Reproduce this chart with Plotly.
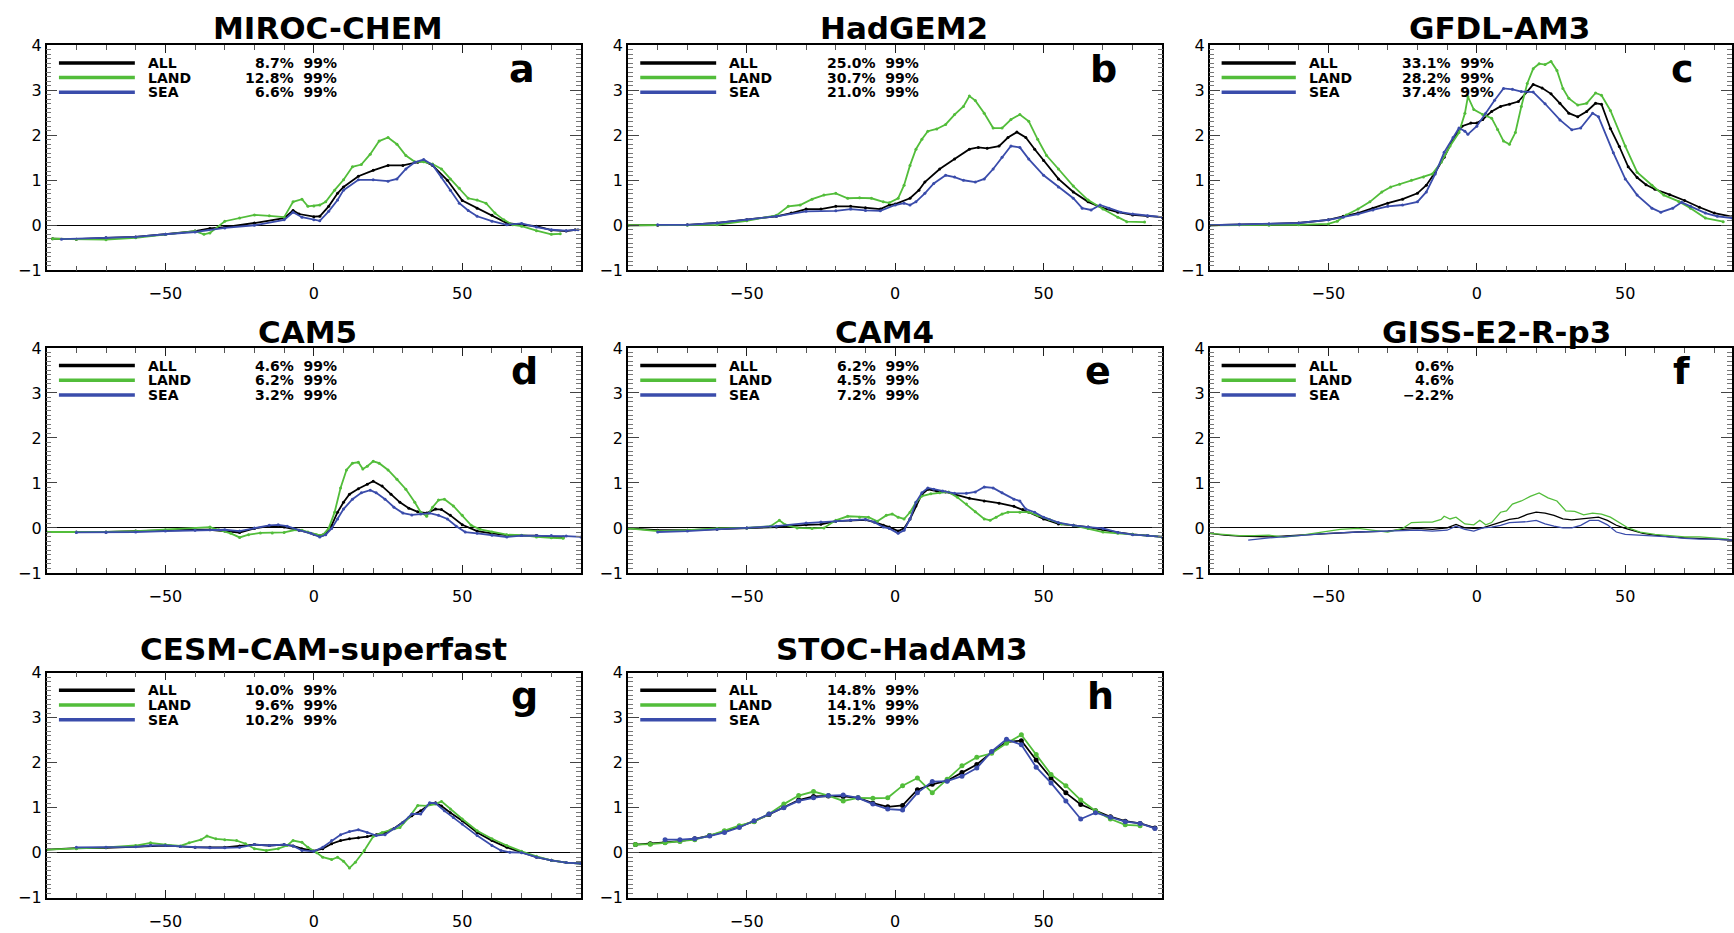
import plotly.graph_objects as go

# ---------------- data ----------------
model_names = ["MIROC-CHEM", "HadGEM2", "GFDL-AM3", "CAM5", "CAM4",
               "GISS-E2-R-p3", "CESM-CAM-superfast", "STOC-HadAM3"]
panel_letters = ["a", "b", "c", "d", "e", "f", "g", "h"]
series_names = ["ALL", "LAND", "SEA"]

pct_all = ["8.7%", "25.0%", "33.1%", "4.6%", "6.2%", "0.6%", "10.0%", "14.8%"]
pct_land = ["12.8%", "30.7%", "28.2%", "6.2%", "4.5%", "4.6%", "9.6%", "14.1%"]
pct_sea = ["6.6%", "21.0%", "37.4%", "3.2%", "7.2%", "−2.2%", "10.2%", "15.2%"]
signif = ["99%", "99%", "99%", "99%", "99%", "", "99%", "99%"]

# panel a : MIROC-CHEM
a_all_lat = [-88,-80,-70,-60,-50,-40,-35,-30,-20,-10,-7,-5,0,2,5,8,10,15,20,25,30,35,37,40,45,50,55,60,65,70,75,80,85,88]
a_all = [-0.30,-0.31,-0.28,-0.26,-0.20,-0.13,-0.07,-0.04,0.05,0.16,0.33,0.25,0.19,0.20,0.42,0.71,0.85,1.09,1.22,1.33,1.33,1.40,1.43,1.33,1.00,0.55,0.38,0.22,0.05,0.01,-0.02,-0.11,-0.13,-0.10]
a_land_lat = [-88,-80,-70,-60,-50,-40,-37,-35,-30,-25,-20,-15,-10,-7,-4,-2,0,2,4,7,10,13,16,19,22,25,28,31,34,37,40,43,46,49,52,55,58,61,64,67,70,75,80,83]
a_land = [-0.30,-0.31,-0.32,-0.28,-0.20,-0.13,-0.20,-0.17,0.09,0.16,0.23,0.21,0.18,0.52,0.58,0.42,0.43,0.45,0.52,0.78,1.01,1.30,1.35,1.58,1.87,1.95,1.80,1.55,1.41,1.41,1.36,1.25,1.03,0.82,0.60,0.56,0.49,0.27,0.12,0.01,-0.02,-0.12,-0.20,-0.19]
a_sea_lat = [-85,-70,-60,-50,-40,-30,-20,-10,-7,-4,0,2,5,8,10,15,20,25,28,31,34,37,40,43,46,49,52,55,60,65,70,75,80,85,89]
a_sea = [-0.31,-0.28,-0.26,-0.20,-0.15,-0.06,0.0,0.12,0.29,0.18,0.12,0.10,0.31,0.56,0.78,1.01,1.01,0.98,1.03,1.25,1.40,1.46,1.34,1.07,0.78,0.49,0.33,0.20,0.09,0.01,0.04,-0.04,-0.10,-0.12,-0.10]

# panel b : HadGEM2
b_all_lat = [-90,-80,-70,-60,-50,-40,-35,-30,-25,-20,-15,-10,-5,-2,0,5,8,10,15,20,25,28,31,35,38,41,44,47,50,55,60,65,70,75,80,85,90]
b_all = [0.0,0.0,0.01,0.05,0.12,0.20,0.27,0.36,0.36,0.42,0.42,0.39,0.36,0.45,0.47,0.60,0.78,0.96,1.25,1.47,1.69,1.73,1.71,1.76,1.95,2.07,1.95,1.69,1.44,1.03,0.74,0.52,0.38,0.29,0.23,0.20,0.18]
b_land_lat = [-90,-70,-60,-50,-40,-36,-32,-28,-24,-20,-16,-12,-8,-4,-2,1,3,5,7,9,11,14,17,20,23,25,27,30,33,36,39,42,45,48,51,55,60,65,70,75,78,84]
b_land = [0.0,0.0,0.01,0.10,0.22,0.42,0.45,0.58,0.67,0.71,0.60,0.61,0.60,0.52,0.50,0.60,0.89,1.33,1.69,1.91,2.09,2.14,2.24,2.46,2.64,2.87,2.77,2.49,2.16,2.16,2.35,2.46,2.31,1.91,1.55,1.25,0.87,0.56,0.36,0.18,0.08,0.07]
b_sea_lat = [-80,-70,-60,-50,-40,-30,-20,-15,-10,-5,0,3,5,7,10,13,17,20,23,27,30,33,36,39,42,45,50,55,60,63,66,69,72,76,80,85,90]
b_sea = [0.01,0.01,0.05,0.12,0.20,0.31,0.32,0.36,0.33,0.32,0.45,0.49,0.45,0.52,0.71,0.93,1.11,1.07,1.00,0.96,1.03,1.25,1.51,1.76,1.73,1.47,1.11,0.85,0.60,0.38,0.34,0.45,0.38,0.29,0.25,0.21,0.18]

# panel c : GFDL-AM3
c_all_lat = [-90,-80,-70,-60,-50,-45,-40,-35,-30,-25,-20,-17,-14,-11,-8,-5,-2,0,2,5,8,11,14,17,19,22,25,28,31,34,37,40,42,45,48,51,54,57,60,65,70,75,80,86]
c_all = [0.0,0.01,0.03,0.05,0.12,0.20,0.27,0.38,0.49,0.58,0.71,0.89,1.18,1.51,1.91,2.20,2.27,2.27,2.35,2.53,2.64,2.69,2.75,2.97,3.13,3.05,2.92,2.71,2.49,2.41,2.53,2.71,2.69,2.15,1.75,1.30,1.06,0.90,0.80,0.68,0.55,0.40,0.27,0.19]
c_land_lat = [-90,-70,-60,-50,-47,-44,-40,-36,-32,-29,-26,-22,-18,-15,-12,-9,-6,-4,-3,-1,2,5,7,9,11,13,15,17,19,21,23,25,27,29,31,34,37,40,42,45,50,54,59,63,68,72,77,83]
c_land = [0.0,0.0,0.01,0.03,0.09,0.23,0.36,0.52,0.74,0.85,0.91,1.00,1.07,1.14,1.40,1.76,2.06,2.49,2.86,2.57,2.46,2.38,2.13,1.87,1.80,2.06,2.64,3.15,3.48,3.59,3.57,3.64,3.44,3.04,2.82,2.67,2.71,2.94,2.89,2.55,1.76,1.18,0.89,0.67,0.53,0.38,0.16,0.08]
c_sea_lat = [-90,-80,-70,-60,-50,-45,-40,-35,-30,-25,-20,-17,-14,-11,-8,-6,-4,-3,0,3,6,9,12,15,19,23,28,32,35,39,41,46,50,54,59,62,66,69,72,77,81,86]
c_sea = [0.0,0.02,0.03,0.05,0.12,0.18,0.25,0.34,0.42,0.45,0.52,0.74,1.14,1.62,1.95,2.16,2.09,2.02,2.20,2.49,2.78,3.04,3.02,2.97,2.96,2.70,2.34,2.12,2.16,2.49,2.41,1.61,1.03,0.67,0.38,0.29,0.38,0.51,0.42,0.27,0.20,0.16]

# panel d : CAM5
d_all_lat = [-90,-80,-70,-60,-50,-40,-35,-30,-25,-20,-15,-12,-10,-5,0,2,4,6,8,10,12,15,18,20,23,26,29,32,35,38,41,43,46,50,55,60,65,70,75,80,84]
d_all = [-0.09,-0.09,-0.09,-0.07,-0.05,-0.04,-0.04,-0.07,-0.10,-0.01,0.04,0.04,0.02,-0.05,-0.14,-0.17,-0.12,0.06,0.35,0.57,0.75,0.87,0.97,1.04,0.93,0.75,0.57,0.44,0.36,0.33,0.42,0.41,0.28,0.07,-0.07,-0.12,-0.16,-0.17,-0.17,-0.20,-0.20]
d_land_lat = [-90,-70,-60,-50,-40,-35,-32,-28,-25,-22,-18,-14,-10,-6,-4,-2,1,3,5,7,9,11,13,15,16.5,18,20,22,25,28,31,34,36,38,40,42,44,47,50,53,56,60,65,70,75,80,84]
d_land = [-0.09,-0.09,-0.07,-0.04,-0.01,0.02,-0.04,-0.12,-0.21,-0.15,-0.11,-0.11,-0.10,-0.04,-0.05,-0.09,-0.15,-0.16,-0.01,0.35,0.89,1.29,1.44,1.46,1.31,1.37,1.48,1.44,1.29,1.08,0.86,0.57,0.35,0.26,0.46,0.62,0.64,0.49,0.28,0.06,-0.03,-0.09,-0.15,-0.16,-0.20,-0.22,-0.23]
d_sea_lat = [-80,-70,-60,-50,-40,-30,-25,-20,-15,-12,-9,-5,-1,2,4,6,8,10,13,16,19,21,24,27,30,33,36,39,42,45,48,51,55,60,65,70,75,80,85,90]
d_sea = [-0.10,-0.10,-0.09,-0.07,-0.05,-0.04,-0.07,0.0,0.06,0.07,0.04,-0.05,-0.12,-0.20,-0.15,-0.01,0.20,0.42,0.64,0.78,0.84,0.78,0.64,0.46,0.33,0.29,0.31,0.33,0.28,0.20,0.04,-0.09,-0.12,-0.16,-0.20,-0.17,-0.17,-0.17,-0.18,-0.20]

# panel e : CAM4
e_all_lat = [-90,-80,-70,-60,-50,-40,-30,-25,-20,-15,-10,-7,-4,-2,1,3,5,7,9,11,14,17,20,25,30,35,40,43,45,50,55,60,65,70,75,80,85,90]
e_all = [-0.01,-0.05,-0.05,-0.03,0.0,0.02,0.07,0.08,0.15,0.17,0.18,0.13,0.06,0.02,-0.07,-0.01,0.20,0.49,0.75,0.86,0.82,0.80,0.75,0.66,0.60,0.55,0.48,0.41,0.35,0.20,0.09,0.06,0.02,-0.04,-0.10,-0.14,-0.17,-0.20]
e_land_lat = [-90,-80,-70,-60,-50,-42,-39,-37,-33,-28,-24,-20,-16,-12,-9,-6,-3,-1,1,3,5,7,9,12,15,18,21,24,27,30,32,34,36,38,42,45,48,52,56,60,65,70,75,80,85,90]
e_land = [-0.01,-0.07,-0.05,-0.01,0.0,0.04,0.17,0.07,0.0,-0.01,0.0,0.17,0.26,0.24,0.24,0.15,0.28,0.31,0.24,0.20,0.35,0.57,0.71,0.76,0.78,0.80,0.68,0.53,0.36,0.20,0.17,0.24,0.31,0.35,0.35,0.35,0.28,0.19,0.09,0.06,-0.01,-0.09,-0.12,-0.14,-0.17,-0.20]
e_sea_lat = [-80,-70,-60,-50,-40,-30,-25,-20,-15,-10,-7,-4,-2,1,3,5,7,9,11,13,16,20,24,27,30,33,36,40,42,44,47,50,55,60,65,70,75,80,85,90]
e_sea = [-0.09,-0.07,-0.03,0.0,0.04,0.11,0.13,0.15,0.17,0.19,0.13,0.02,-0.01,-0.12,-0.05,0.20,0.57,0.78,0.89,0.86,0.82,0.77,0.77,0.80,0.91,0.89,0.78,0.64,0.60,0.42,0.35,0.24,0.12,0.06,0.02,-0.01,-0.10,-0.15,-0.17,-0.20]

# panel f : GISS-E2-R-p3
f_all_lat = [-90,-85,-80,-70,-60,-50,-40,-30,-25,-20,-15,-10,-7,-4,-1,2,5,8,11,14,17,20,23,26,29,32,35,38,41,44,47,50,53,56,60,65,70,75,80,86]
f_all = [-0.12,-0.16,-0.18,-0.20,-0.16,-0.12,-0.09,-0.07,-0.03,-0.01,-0.03,0.0,0.08,0.0,-0.01,0.0,0.06,0.13,0.19,0.22,0.30,0.35,0.33,0.28,0.20,0.18,0.20,0.22,0.24,0.17,0.06,-0.01,-0.07,-0.12,-0.16,-0.20,-0.22,-0.23,-0.25,-0.27]
f_land_lat = [-90,-85,-80,-75,-70,-65,-60,-55,-50,-46,-40,-35,-30,-25,-22,-18,-15,-12,-11,-9,-7,-4,-1,1,3,5,8,10,12,15,18,21,24,27,30,33,36,39,42,45,48,51,55,60,65,70,75,80,85]
f_land = [-0.12,-0.14,-0.17,-0.17,-0.16,-0.20,-0.17,-0.12,-0.07,-0.03,-0.01,-0.05,-0.09,-0.01,0.12,0.13,0.13,0.19,0.26,0.20,0.24,0.09,0.07,0.17,0.07,0.12,0.35,0.38,0.53,0.60,0.70,0.78,0.67,0.60,0.38,0.37,0.29,0.33,0.31,0.24,0.12,0.0,-0.09,-0.14,-0.17,-0.20,-0.20,-0.22,-0.25]
f_sea_lat = [-77,-70,-60,-50,-40,-30,-20,-15,-10,-7,-4,-1,2,5,8,11,14,17,20,23,26,29,32,35,38,41,44,47,50,55,60,65,70,75,80,86]
f_sea = [-0.27,-0.22,-0.17,-0.12,-0.09,-0.07,-0.05,-0.07,-0.05,0.04,-0.03,-0.07,0.0,0.02,0.06,0.12,0.13,0.14,0.17,0.09,0.04,0.0,0.0,0.06,0.17,0.17,0.07,-0.09,-0.14,-0.16,-0.17,-0.20,-0.23,-0.25,-0.25,-0.27]

# panel g : CESM-CAM-superfast
g_all_lat = [-90,-80,-70,-60,-55,-50,-45,-40,-35,-30,-25,-20,-15,-10,-7,-4,0,3,6,9,12,15,18,21,24,27,30,33,36,39,41,43,46,50,55,60,65,70,75,80,85,90]
g_all = [0.07,0.10,0.11,0.14,0.16,0.16,0.14,0.12,0.12,0.12,0.15,0.18,0.16,0.18,0.15,0.09,0.04,0.09,0.20,0.27,0.31,0.33,0.36,0.40,0.45,0.54,0.67,0.82,0.93,1.08,1.11,1.04,0.89,0.71,0.45,0.27,0.12,0.01,-0.10,-0.17,-0.22,-0.24]
g_land_lat = [-90,-80,-70,-60,-55,-50,-45,-42,-38,-36,-33,-30,-26,-23,-20,-16,-12,-9,-7,-4,-2,1,3,6,8,10,12,14,17,20,23,26,29,32,35,38,41,43,46,50,55,60,65,70,75,80,85,90]
g_land = [0.07,0.09,0.12,0.16,0.22,0.18,0.15,0.22,0.29,0.37,0.31,0.29,0.27,0.20,0.09,0.05,0.09,0.16,0.27,0.23,0.12,0.0,-0.10,-0.15,-0.10,-0.19,-0.34,-0.21,0.05,0.36,0.45,0.51,0.56,0.78,1.05,1.04,1.08,1.14,0.97,0.75,0.49,0.31,0.16,0.03,-0.08,-0.17,-0.22,-0.24]
g_sea_lat = [-80,-70,-60,-55,-50,-45,-40,-35,-30,-25,-20,-15,-10,-7,-4,0,3,6,9,12,15,18,21,24,27,30,33,36,39,41,44,47,50,55,60,63,66,70,75,80,85,90]
g_sea = [0.12,0.12,0.13,0.16,0.16,0.14,0.12,0.11,0.11,0.12,0.18,0.16,0.18,0.15,0.05,0.03,0.12,0.27,0.40,0.47,0.51,0.45,0.38,0.40,0.53,0.67,0.86,0.86,1.11,1.10,0.93,0.78,0.64,0.38,0.16,0.05,0.01,0.0,-0.10,-0.17,-0.22,-0.24]

# panel h : STOC-HadAM3 (5-degree bands)
h_lat = [-87.5,-82.5,-77.5,-72.5,-67.5,-62.5,-57.5,-52.5,-47.5,-42.5,-37.5,-32.5,-27.5,-22.5,-17.5,-12.5,-7.5,-2.5,
         2.5,7.5,12.5,17.5,22.5,27.5,32.5,37.5,42.5,47.5,52.5,57.5,62.5,67.5,72.5,77.5,82.5,87.5]
h_all = [0.18,0.20,0.23,0.26,0.31,0.38,0.47,0.58,0.70,0.85,1.01,1.17,1.25,1.26,1.25,1.22,1.10,1.02,
         1.05,1.40,1.52,1.60,1.78,1.96,2.23,2.46,2.49,2.06,1.66,1.33,1.07,0.93,0.80,0.70,0.65,0.55]
h_land = [0.18,0.19,0.22,0.25,0.29,0.38,0.49,0.60,0.69,0.86,1.08,1.27,1.36,1.27,1.15,1.22,1.21,1.22,
          1.49,1.66,1.33,1.63,1.93,2.12,2.21,2.43,2.62,2.18,1.74,1.49,1.17,0.93,0.75,0.62,0.60,None]
h_sea = [None,None,0.29,0.29,0.31,0.37,0.45,0.56,0.71,0.86,1.00,1.15,1.22,1.27,1.28,1.22,1.08,0.97,
         0.95,1.33,1.58,1.59,1.70,1.88,2.25,2.52,2.40,1.90,1.55,1.15,0.75,0.89,0.79,0.69,0.65,0.54]

panel_data = [
    ((a_all_lat, a_all), (a_land_lat, a_land), (a_sea_lat, a_sea)),
    ((b_all_lat, b_all), (b_land_lat, b_land), (b_sea_lat, b_sea)),
    ((c_all_lat, c_all), (c_land_lat, c_land), (c_sea_lat, c_sea)),
    ((d_all_lat, d_all), (d_land_lat, d_land), (d_sea_lat, d_sea)),
    ((e_all_lat, e_all), (e_land_lat, e_land), (e_sea_lat, e_sea)),
    ((f_all_lat, f_all), (f_land_lat, f_land), (f_sea_lat, f_sea)),
    ((g_all_lat, g_all), (g_land_lat, g_land), (g_sea_lat, g_sea)),
    ((h_lat, h_all), (h_lat, h_land), (h_lat, h_sea)),
]

# ---------------- layout geometry (pixels) ----------------
W, H = 1734, 933
col_left = [46.7, 628.7, 1211.0]
row_top = [37.0, 346.0, 677.5]
PW, PH = 535.0, 229.7
grid_pos = [(0, 0), (0, 1), (0, 2), (1, 0), (1, 1), (1, 2), (2, 0), (2, 1)]
title_cx = [328, 905, 1501, 308, 886, 1498, 324, 903]
title_cy = [19, 330, 653]
letter_x = [0.89, 0.89, 0.905, 0.895, 0.88, 0.903, 0.895, 0.884]

colors = ["#000000", "#52BD3A", "#3A4CAB"]
FONT = "DejaVu Sans"

fig = go.Figure()
shapes, annotations = [], []
layout_axes = {}

for i in range(8):
    r, c = grid_pos[i]
    left, top = col_left[c], row_top[r]
    right = min(left + PW, W)
    xmax = -90 + (right - left) / PW * 180.0
    suffix = "" if i == 0 else str(i + 1)
    xa, ya = "xaxis" + suffix, "yaxis" + suffix
    xr, yr = "x" + suffix, "y" + suffix

    layout_axes[xa] = dict(
        domain=[left / W, right / W], range=[-90, xmax], anchor=yr,
        showline=True, linecolor="black", linewidth=1.5, mirror="allticks",
        ticks="inside", ticklen=8, tickwidth=1.2, tickcolor="#222",
        tickmode="linear", tick0=0, dtick=50,
        minor=dict(ticks="inside", ticklen=5, tickmode="linear", tick0=-90, dtick=10,
                   tickcolor="#555", tickwidth=1.2),
        showgrid=False, zeroline=False, ticklabelstandoff=8,
        tickfont=dict(family=FONT, size=16, color="black"),
    )
    layout_axes[ya] = dict(
        domain=[1 - (top + PH) / H, 1 - top / H], range=[-1, 4], anchor=xr,
        showline=True, linecolor="black", linewidth=1.5, mirror="allticks",
        ticks="inside", ticklen=11, tickwidth=1.2, tickcolor="#444",
        tickmode="linear", tick0=0, dtick=1,
        minor=dict(ticks="inside", ticklen=5, tickmode="linear", tick0=0, dtick=0.1,
                   tickcolor="#777", tickwidth=1.2),
        showgrid=False, zeroline=True, zerolinecolor="black", zerolinewidth=1,
        tickfont=dict(family=FONT, size=16, color="black"),
    )

    for k, (lat, val) in enumerate(panel_data[i]):
        if i == 5:
            mode, lw, ms = "lines", 1.3, 0
        elif i == 7:
            mode, lw, ms = "lines+markers", 1.8, 5
        else:
            mode, lw, ms = "lines+markers", 1.8, 3
        fig.add_trace(go.Scatter(
            x=lat, y=val, mode=mode, xaxis=xr, yaxis=yr,
            line=dict(color=colors[k], width=lw),
            marker=dict(color=colors[k], size=ms),
            showlegend=False, hoverinfo="skip", connectgaps=False,
        ))

    # legend block inside the panel
    pcts = [pct_all[i], pct_land[i], pct_sea[i]]
    for k in range(3):
        yy = 1 - (18 + 15 * k) / PH
        shapes.append(dict(type="line", xref=xr + " domain", yref=yr + " domain",
                           x0=12.3 / PW, x1=88.3 / PW, y0=yy, y1=yy,
                           line=dict(color=colors[k], width=3.5)))
        annotations.append(dict(xref=xr + " domain", yref=yr + " domain",
                                x=99.5 / PW, y=yy, xanchor="left", yanchor="middle",
                                text=series_names[k], showarrow=False,
                                font=dict(family=FONT, size=14, color="black", weight="bold")))
        txt = pcts[k] + ("  " + signif[i] if signif[i] else "")
        xend = 293 / PW if signif[i] else 252 / PW
        annotations.append(dict(xref=xr + " domain", yref=yr + " domain",
                                x=xend, y=yy, xanchor="right", yanchor="middle",
                                text=txt, showarrow=False,
                                font=dict(family=FONT, size=14, color="black", weight="bold")))
    # panel letter
    annotations.append(dict(xref=xr + " domain", yref=yr + " domain",
                            x=letter_x[i], y=1 - 24 / PH, xanchor="center", yanchor="middle",
                            text=panel_letters[i], showarrow=False,
                            font=dict(family=FONT, size=38, color="black", weight="bold")))
    # title
    annotations.append(dict(xref="paper", yref="paper",
                            x=title_cx[i] / W, y=1 - title_cy[r] / H,
                            xanchor="center", yanchor="middle",
                            text=model_names[i], showarrow=False,
                            font=dict(family=FONT, size=31, color="black", weight="bold")))

fig.update_layout(
    width=W, height=H, margin=dict(l=0, r=0, t=0, b=0),
    paper_bgcolor="white", plot_bgcolor="white",
    showlegend=False, hovermode=False,
    shapes=shapes, annotations=annotations,
    **layout_axes,
)

fig.write_html("out.html")
